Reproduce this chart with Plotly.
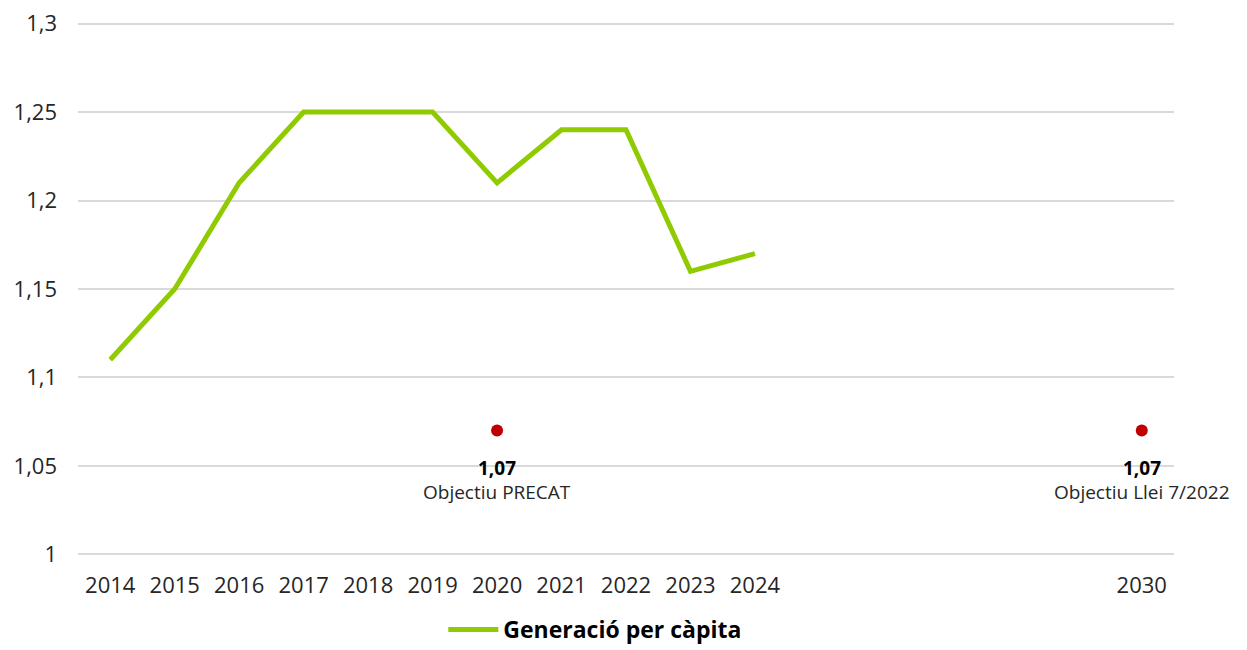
import plotly.graph_objects as go

# Generació per càpita (kg/hab/dia)
years = [2014, 2015, 2016, 2017, 2018, 2019, 2020, 2021, 2022, 2023, 2024]
values = [1.11, 1.15, 1.21, 1.25, 1.25, 1.25, 1.21, 1.24, 1.24, 1.16, 1.17]

# objectius
target_years = [2020, 2030]
target_values = [1.07, 1.07]
target_names = ["Objectiu PRECAT", "Objectiu Llei 7/2022"]

tick_years = years + [2030]
y_ticks = [1, 1.05, 1.1, 1.15, 1.2, 1.25, 1.3]

font = "Open Sans"

fig = go.Figure()
fig.add_trace(go.Scatter(x=years, y=values, mode="lines", name="<b>Generació per càpita</b>",
                         line=dict(color="#8FCB00", width=5)))
fig.add_trace(go.Scatter(x=target_years, y=target_values, mode="markers", showlegend=False,
                         marker=dict(color="#C00000", size=12)))

for yr, val, name in zip(target_years, target_values, target_names):
    fig.add_annotation(x=yr, y=val, text="<b>" + f"{val:.2f}".replace(".", ",") + "</b>",
                       showarrow=False, yshift=-37, font=dict(family=font, size=19, color="#000000"))
    fig.add_annotation(x=yr, y=val, text=name, showarrow=False, yshift=-61,
                       font=dict(family=font, size=19, color="#262626"))

fig.update_xaxes(range=[2013.5, 2030.5], tickvals=tick_years, ticktext=[str(y) for y in tick_years],
                 showgrid=False, zeroline=False, showline=False,
                 tickfont=dict(family=font, size=22, color="#262626"), ticks="", ticklabelstandoff=12)
fig.update_yaxes(range=[0.998, 1.302], tickvals=y_ticks, ticklabeloverflow="allow",
                 showgrid=True, gridcolor="#D9D9D9", gridwidth=2,
                 zeroline=False, showline=False,
                 tickfont=dict(family=font, size=22, color="#262626"), ticks="", ticklabelstandoff=20)

# la pàgina té un marge de 8px al voltant del gràfic
fig.update_layout(width=1239, height=642, plot_bgcolor="white", paper_bgcolor="white",
                  separators=",.",
                  margin=dict(l=70, r=73, t=11.5, b=91.5, autoexpand=False),
                  legend=dict(orientation="h", x=0.472, xanchor="center",
                              yref="container", y=0.032, yanchor="middle",
                              font=dict(family=font, size=23, color="#000000"),
                              itemwidth=50),
                  showlegend=True)

fig.write_html("out.html")
